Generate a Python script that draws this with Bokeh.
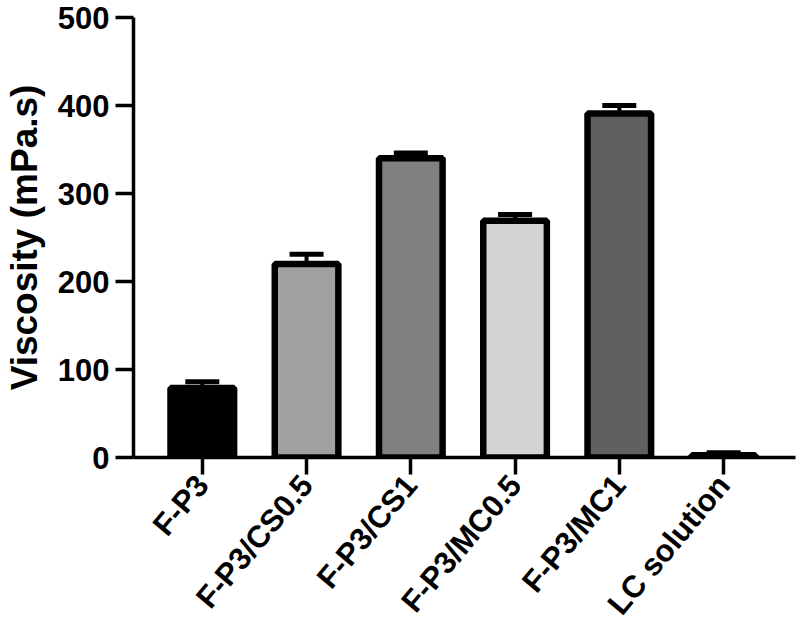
import math
from bokeh.plotting import figure
from bokeh.models import Range1d, FixedTicker, Whisker, TeeHead, ColumnDataSource
from bokeh.embed import file_html
from bokeh.resources import INLINE

categories = ["F-P3", "F-P3/CS0.5", "F-P3/CS1", "F-P3/MC0.5", "F-P3/MC1", "LC solution"]
viscosity = [79, 220, 340, 269, 391, 2.5]
error_upper = [86, 231, 346, 276, 400, 5.5]
bar_colors = ["#000000", "#a0a0a0", "#808080", "#d4d4d4", "#606060", "#ffffff"]
y_ticks = [0, 100, 200, 300, 400, 500]

positions = list(range(len(categories)))
src = ColumnDataSource(dict(x=positions, top=viscosity, upper=error_upper, color=bar_colors))

FONT = "Liberation Sans"

p = figure(width=800, height=637, output_backend="svg", toolbar_location=None,
           x_range=Range1d(-0.66, 5.69), y_range=Range1d(0, 500),
           min_border_left=133, min_border_right=5, min_border_top=17, min_border_bottom=180)
p.outline_line_color = None
p.grid.visible = False
p.background_fill_color = "white"
p.border_fill_color = "white"

p.vbar(x="x", top="top", width=0.61, bottom=0, fill_color="color", line_color="black",
       line_width=6.5, source=src)

w = Whisker(base="x", upper="upper", lower="top", source=src, dimension="height",
            line_color="black", line_width=4,
            upper_head=TeeHead(size=34, line_width=5, line_color="black"), lower_head=None)
p.add_layout(w)

# y axis
p.yaxis.ticker = FixedTicker(ticks=y_ticks)
p.yaxis.minor_tick_line_color = None
p.yaxis.major_tick_in = 0
p.yaxis.major_tick_out = 18
p.yaxis.major_tick_line_width = 3.5
p.yaxis.axis_line_width = 3.5
p.yaxis.major_label_text_font = FONT
p.yaxis.major_label_text_font_style = "bold"
p.yaxis.major_label_text_font_size = "31px"
p.yaxis.major_label_text_color = "black"
p.yaxis.major_label_standoff = 6
p.yaxis.axis_label = "Viscosity (mPa.s)"
p.yaxis.axis_label_text_font = FONT
p.yaxis.axis_label_text_font_style = "bold"
p.yaxis.axis_label_text_font_size = "37px"
p.yaxis.axis_label_text_color = "black"
p.yaxis.axis_label_standoff = 10

# x axis
p.xaxis.ticker = FixedTicker(ticks=positions)
p.xaxis.major_label_overrides = {i: c for i, c in zip(positions, categories)}
p.xaxis.minor_tick_line_color = None
p.xaxis.major_tick_in = 0
p.xaxis.major_tick_out = 17
p.xaxis.major_tick_line_width = 3.5
p.xaxis.axis_line_width = 3.5
p.xaxis.major_label_orientation = math.radians(50)
p.xaxis.major_label_text_font = FONT
p.xaxis.major_label_text_font_style = "bold"
p.xaxis.major_label_text_font_size = "31px"
p.xaxis.major_label_text_color = "black"
p.xaxis.major_label_standoff = 5

open("out.html", "w").write(file_html(p, INLINE))
